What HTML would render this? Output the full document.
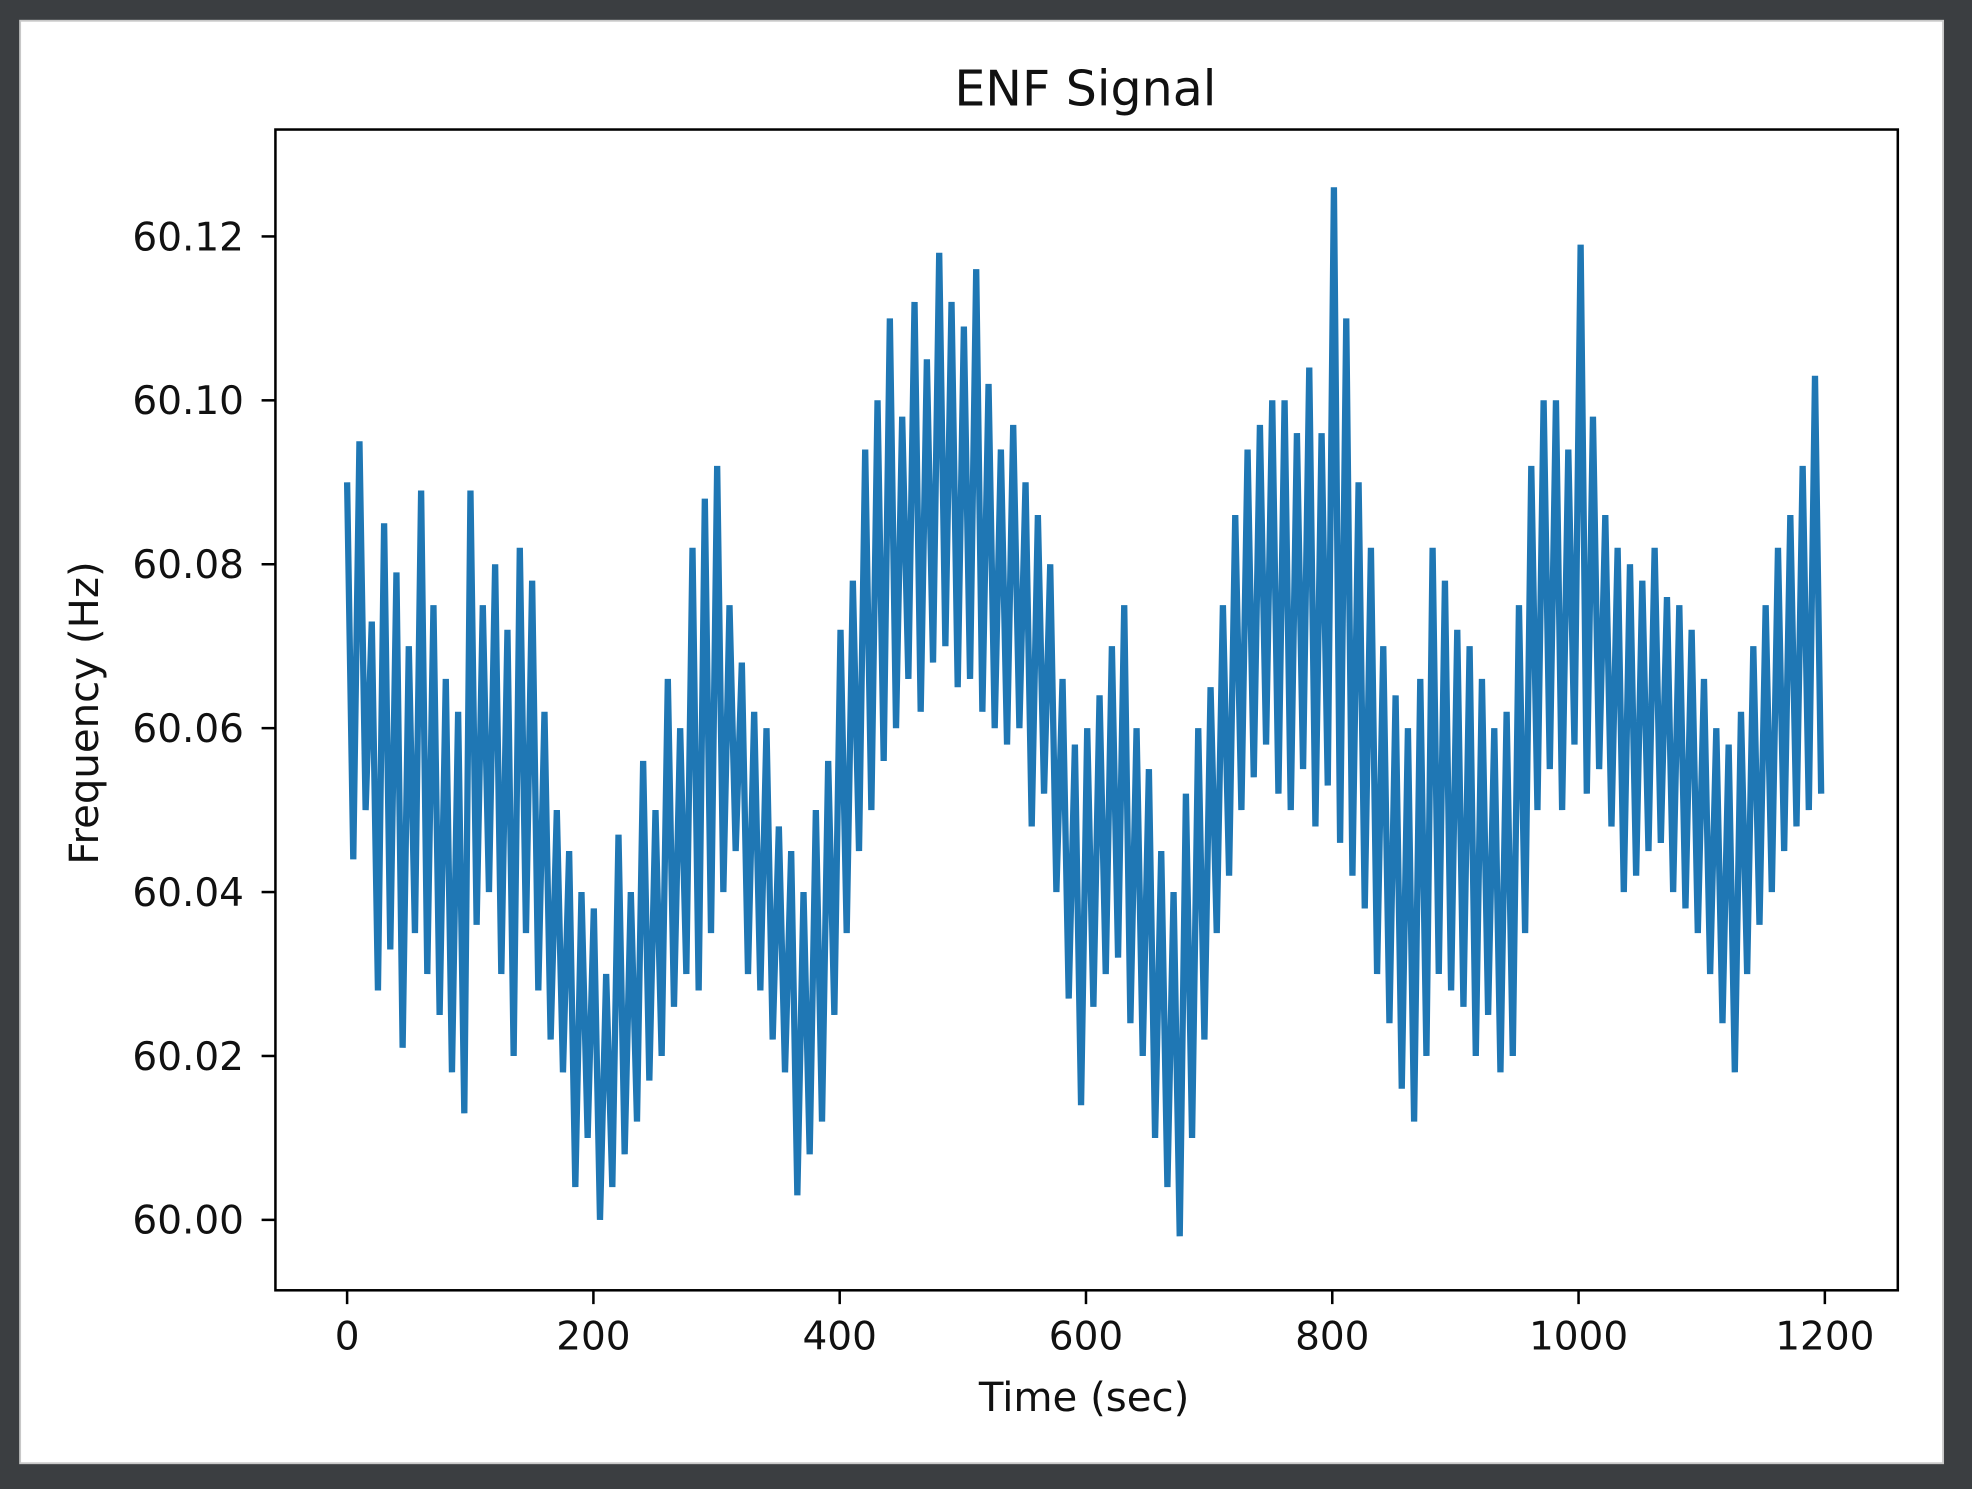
<!DOCTYPE html>
<html><head><meta charset="utf-8"><style>
html,body{margin:0;padding:0;background:#3b3e41;}
svg{display:block;}
text{font-family:"DejaVu Sans","Liberation Sans",sans-serif;fill:#111;}
</style></head><body>
<svg id="chart" width="1972" height="1489" viewBox="0 0 1568 1184" preserveAspectRatio="none" xmlns="http://www.w3.org/2000/svg">
<rect x="0" y="0" width="1568" height="1184" fill="#3b3e41"/>
<rect x="16" y="16.5" width="1529" height="1147" fill="#fff" stroke="#c8c8c8" stroke-width="1.5"/>
<text x="863" y="84" font-size="39" text-anchor="middle">ENF Signal</text>
<text x="862" y="1122" font-size="32" text-anchor="middle">Time (sec)</text>
<text transform="translate(78,567) rotate(-90)" font-size="32" text-anchor="middle">Frequency (Hz)</text>
<g id="plot"></g>
<g id="axes"></g>
</svg>
<script>
const xTicks=[0,200,400,600,800,1000,1200];
const yTicks=[60.00,60.02,60.04,60.06,60.08,60.10,60.12];
const duration=1197;
const freqValues=[
60.090,60.044,60.095,60.050, 60.073,60.028,60.085,60.033, 60.079,60.021,60.070,60.035,
60.089,60.030,60.075,60.025, 60.066,60.018,60.062,60.013, 60.089,60.036,60.075,60.040,
60.080,60.030,60.072,60.020, 60.082,60.035,60.078,60.028, 60.062,60.022,60.050,60.018,
60.045,60.004,60.040,60.010, 60.038,60.000,60.030,60.004, 60.047,60.008,60.040,60.012,
60.056,60.017,60.050,60.020, 60.066,60.026,60.060,60.030, 60.082,60.028,60.088,60.035,
60.092,60.040,60.075,60.045, 60.068,60.030,60.062,60.028, 60.060,60.022,60.048,60.018,
60.045,60.003,60.040,60.008, 60.050,60.012,60.056,60.025, 60.072,60.035,60.078,60.045,
60.094,60.050,60.100,60.056, 60.110,60.060,60.098,60.066, 60.112,60.062,60.105,60.068,
60.118,60.070,60.112,60.065, 60.109,60.066,60.116,60.062, 60.102,60.060,60.094,60.058,
60.097,60.060,60.090,60.048, 60.086,60.052,60.080,60.040, 60.066,60.027,60.058,60.014,
60.060,60.026,60.064,60.030, 60.070,60.032,60.075,60.024, 60.060,60.020,60.055,60.010,
60.045,60.004,60.040,59.998, 60.052,60.010,60.060,60.022, 60.065,60.035,60.075,60.042,
60.086,60.050,60.094,60.054, 60.097,60.058,60.100,60.052, 60.100,60.050,60.096,60.055,
60.104,60.048,60.096,60.053, 60.126,60.046,60.110,60.042, 60.090,60.038,60.082,60.030,
60.070,60.024,60.064,60.016, 60.060,60.012,60.066,60.020, 60.082,60.030,60.078,60.028,
60.072,60.026,60.070,60.020, 60.066,60.025,60.060,60.018, 60.062,60.020,60.075,60.035,
60.092,60.050,60.100,60.055, 60.100,60.050,60.094,60.058, 60.119,60.052,60.098,60.055,
60.086,60.048,60.082,60.040, 60.080,60.042,60.078,60.045, 60.082,60.046,60.076,60.040,
60.075,60.038,60.072,60.035, 60.066,60.030,60.060,60.024, 60.058,60.018,60.062,60.030,
60.070,60.036,60.075,60.040, 60.082,60.045,60.086,60.048, 60.092,60.050,60.103,60.052
];
const NS='http://www.w3.org/2000/svg';
const L=219,R=1509,T=103,B=1026;
function xs(v){return 276+(v-0)*(1451-276)/1200;}
function ys(v){return 970-(v-60.00)*(970-188)/0.12;}
const plot=document.getElementById('plot');
const axes=document.getElementById('axes');
let d='';
freqValues.forEach((v,i)=>{const t=i*duration/(freqValues.length-1);d+=(i?'L':'M')+xs(t).toFixed(2)+' '+ys(v).toFixed(2);});
const line=document.createElementNS(NS,'path');


line.setAttribute('d',d);line.setAttribute('fill','none');line.setAttribute('stroke','#1f77b4');line.setAttribute('stroke-width','5');line.setAttribute('stroke-linejoin','bevel');
plot.appendChild(line);
const frame=document.createElementNS(NS,'rect');


frame.setAttribute('x',L);frame.setAttribute('y',T);frame.setAttribute('width',R-L);frame.setAttribute('height',B-T);
frame.setAttribute('fill','none');frame.setAttribute('stroke','#000');frame.setAttribute('stroke-width','2');
axes.appendChild(frame);
xTicks.forEach(v=>{
  const x=xs(v);
  const tk=document.createElementNS(NS,'line');
  
  
  tk.setAttribute('x1',x);tk.setAttribute('x2',x);tk.setAttribute('y1',B);tk.setAttribute('y2',B+11);tk.setAttribute('stroke','#000');tk.setAttribute('stroke-width','2');
  axes.appendChild(tk);
  const tx=document.createElementNS(NS,'text');
  
  
  tx.setAttribute('x',x);tx.setAttribute('y',1073);tx.setAttribute('font-size','31');tx.setAttribute('text-anchor','middle');
  tx.textContent=String(v);axes.appendChild(tx);
});
yTicks.forEach(v=>{
  const y=ys(v);
  const tk=document.createElementNS(NS,'line');
  
  
  tk.setAttribute('x1',L-11);tk.setAttribute('x2',L);tk.setAttribute('y1',y);tk.setAttribute('y2',y);tk.setAttribute('stroke','#000');tk.setAttribute('stroke-width','2');
  axes.appendChild(tk);
  const tx=document.createElementNS(NS,'text');
  
  
  tx.setAttribute('x',L-25);tx.setAttribute('y',y+11);tx.setAttribute('font-size','31');tx.setAttribute('text-anchor','end');
  tx.textContent=v.toFixed(2);axes.appendChild(tx);
});
</script>
</body></html>
